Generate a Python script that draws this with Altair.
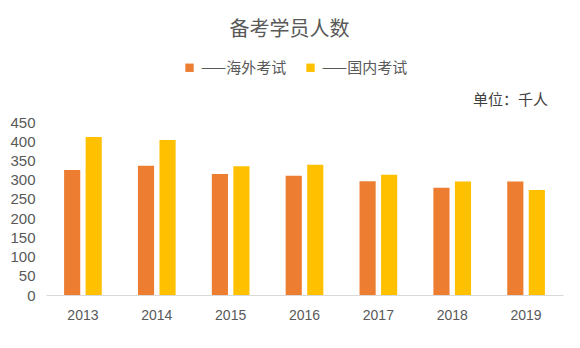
import altair as alt
import pandas as pd

years = ["2013", "2014", "2015", "2016", "2017", "2018", "2019"]
overseas = [325, 336, 315, 310, 296, 279, 295]
domestic = [411, 403, 335, 339, 313, 295, 273]
series_names = ["——海外考试", "——国内考试"]
series_colors = ["#ED7D31", "#FFC000"]

rows = []
for y, a, b in zip(years, overseas, domestic):
    rows.append({"year": y, "series": series_names[0], "value": a})
    rows.append({"year": y, "series": series_names[1], "value": b})
df = pd.DataFrame(rows)

FONT = "Noto Sans CJK SC"

bars = alt.Chart(df).mark_bar().encode(
    x=alt.X("year:N", sort=years, title=None,
            scale=alt.Scale(paddingInner=0.49, paddingOuter=0.245),
            axis=alt.Axis(labelAngle=0, ticks=False, domainColor="#D9D9D9",
                          labelFontSize=14, labelColor="#595959", labelPadding=13)),
    xOffset=alt.XOffset("series:N", sort=series_names,
                        scale=alt.Scale(domain=series_names, paddingInner=0.25)),
    y=alt.Y("value:Q", title=None,
            scale=alt.Scale(domain=[0, 450]),
            axis=alt.Axis(values=list(range(0, 451, 50)), grid=False, domain=False,
                          ticks=False, labelFontSize=15, labelColor="#595959",
                          labelPadding=11)),
    color=alt.Color("series:N", sort=series_names,
                    scale=alt.Scale(domain=series_names, range=series_colors),
                    legend=alt.Legend(title=None, orient="none", direction="horizontal",
                                      legendX=136, legendY=-62, symbolType="square",
                                      symbolSize=70, labelFontSize=15, labelColor="#595959",
                                      labelFont=FONT, columnPadding=16, symbolStrokeWidth=0)),
)

unit = alt.Chart(pd.DataFrame({"t": ["单位：千人"]})).mark_text(
    align="right", baseline="middle", fontSize=15, color="#404040", font=FONT
).encode(text="t:N", x=alt.value(502), y=alt.value(-22))

chart = alt.layer(bars, unit).properties(
    width=517, height=173,
    title=alt.TitleParams("备考学员人数", fontSize=20, color="#595959", font=FONT,
                          fontWeight="normal", anchor="middle", frame="group", dx=-15, offset=20),
    autosize=alt.AutoSizeParams(type="none"),
    padding={"left": 46, "top": 122, "right": 17, "bottom": 53},
    background="white",
).configure_view(stroke=None)

chart.save("out.html", embed_options={"renderer": "svg", "actions": False})
